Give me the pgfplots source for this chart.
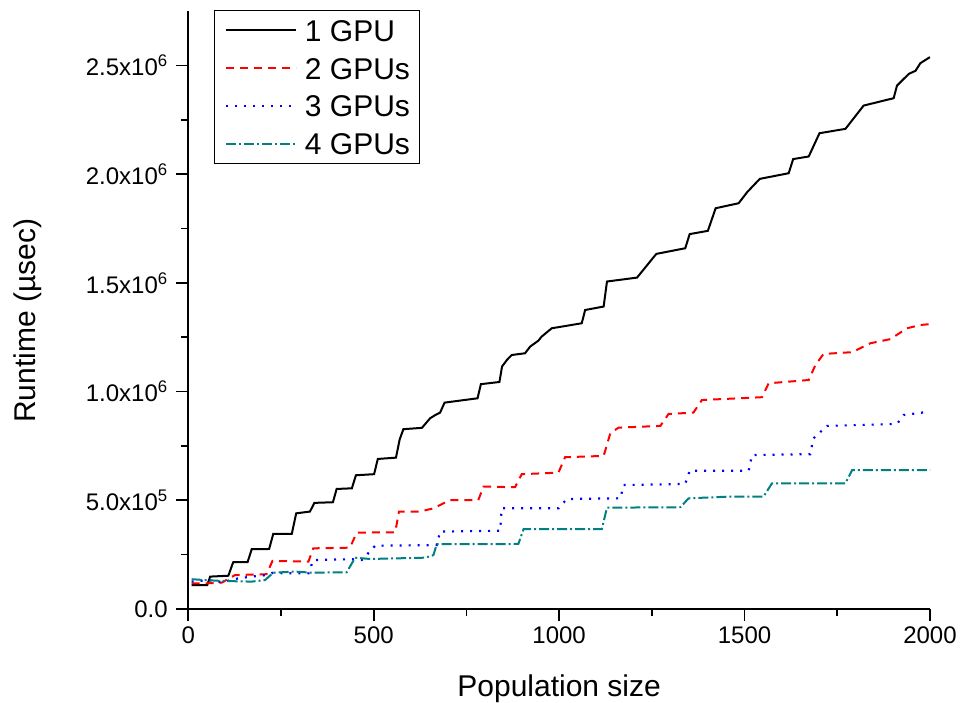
\documentclass[border=0pt]{standalone}
\usepackage{pgfplots}
\pgfplotsset{compat=1.18}
\usepackage{fontspec}
\setmainfont{Liberation Sans}
\definecolor{tealc}{RGB}{0,128,128}

\begin{document}
\begin{tikzpicture}
\begin{axis}[
  scale only axis,
  width=741.7pt, height=598pt,
  xmin=0, xmax=2000, ymin=0, ymax=2750000,
  axis x line*=bottom, axis y line*=left,
  x axis line style={-, line width=1.8pt},
  y axis line style={-, line width=1.8pt},
  tick align=outside,
  major tick length=12pt, minor tick length=7pt,
  every tick/.style={line width=1.6pt, black},
  xtick={0,500,1000,1500,2000},
  xticklabels={0,500,1000,1500,2000},
  minor x tick num=1,
  ytick={0,500000,1000000,1500000,2000000,2500000},
  yticklabels={0.0, 5.0x10\textsuperscript{5}, 1.0x10\textsuperscript{6}, 1.5x10\textsuperscript{6}, 2.0x10\textsuperscript{6}, 2.5x10\textsuperscript{6}},
  minor y tick num=1,
  scaled y ticks=false,
  ticklabel style={font=\fontsize{24}{24}\selectfont},
  yticklabel style={xshift=-5pt},
  xticklabel style={yshift=-2pt},
  xlabel={Population size},
  ylabel={Runtime (µsec)},
  label style={font=\fontsize{30}{30}\selectfont},
  xlabel style={at={(axis description cs:0.5,-0.133)}, anchor=center},
  ylabel style={at={(axis description cs:-0.216,0.482)}, anchor=center, rotate=0},
  legend cell align=left,
  legend style={at={(0.035,1.0017)}, anchor=north west, draw=black, line width=1pt,
    font=\fontsize{30}{30}\selectfont,
    nodes={text height=22pt, text depth=0pt, inner sep=0pt},
    /tikz/every odd column/.append style={column sep=8pt},
    row sep=15.7pt, inner xsep=10pt, inner ysep=9pt},
  legend image code/.code={\draw[#1] (0pt,0pt) -- (70pt,0pt);},
]
\addplot[black, line width=2pt] coordinates {
(9,110000) (51,110000) (59,149000) (108,153000) (121,215000) (160,216000)
(171,275000) (218,276000) (229,345000) (279,345000) (291,440000) (328,448000)
(340,488000) (390,491000) (400,552000) (441,555000) (452,615000) (501,620000)
(511,690000) (560,696000) (570,780000) (580,827000) (630,833000) (652,877000)
(666,892000) (679,903000) (691,949000) (780,969000) (789,1034000) (839,1044000)
(846,1115000) (859,1145000) (872,1168000) (908,1176000) (922,1207000) (944,1234000)
(953,1253000) (980,1291000) (1061,1314000) (1070,1375000) (1120,1391000) (1129,1506000)
(1210,1524000) (1262,1633000) (1340,1659000) (1352,1724000) (1401,1739000) (1422,1843000)
(1484,1866000) (1507,1917000) (1541,1978000) (1619,2004000) (1631,2069000) (1673,2081000)
(1702,2188000) (1772,2208000) (1821,2315000) (1902,2349000) (1911,2407000) (1943,2461000)
(1961,2475000) (1974,2510000) (2000,2538000)
};
\addlegendentry{1 GPU}
\addplot[red, line width=2pt, dash pattern=on 8pt off 6pt] coordinates {
(9,118000) (45,118000) (90,121000) (126,156000) (211,160000) (227,221000)
(324,218000) (337,279000) (436,282000) (454,351000) (558,353000) (568,448000)
(625,448000) (661,463000) (706,501000) (782,501000) (796,563000) (881,560000)
(899,620000) (998,627000) (1016,698000) (1120,704000) (1138,808000) (1160,834000)
(1273,842000) (1295,897000) (1362,903000) (1385,961000) (1547,974000) (1565,1038000)
(1673,1053000) (1691,1122000) (1713,1173000) (1790,1181000) (1839,1222000) (1893,1241000)
(1938,1291000) (1974,1306000) (2000,1310000)
};
\addlegendentry{2 GPUs}
\addplot[blue, line width=2.2pt, dash pattern=on 2pt off 7pt] coordinates {
(9,126000) (54,133000) (90,123000) (135,141000) (171,149000) (211,156000)
(229,167000) (261,164000) (324,164000) (337,225000) (441,229000) (468,225000)
(504,291000) (670,294000) (679,356000) (841,360000) (845,463000) (998,463000)
(1021,506000) (1165,509000) (1174,570000) (1340,575000) (1352,636000) (1511,636000)
(1520,708000) (1677,712000) (1686,785000) (1722,842000) (1911,851000) (1929,892000)
(2000,908000)
};
\addlegendentry{3 GPUs}
\addplot[tealc, line width=2pt, dash pattern=on 10pt off 3pt on 2pt off 3pt] coordinates {
(9,137000) (45,133000) (90,129000) (171,126000) (207,133000) (229,167000)
(288,172000) (333,167000) (427,169000) (450,236000) (490,230000) (639,236000)
(661,248000) (670,298000) (890,299000) (904,367000) (1115,367000) (1129,466000)
(1327,468000) (1349,509000) (1461,517000) (1551,517000) (1574,578000) (1772,578000)
(1790,639000) (2000,639000)
};
\addlegendentry{4 GPUs}
\coordinate (BBsw) at ([xshift=-188.3pt,yshift=-93pt]rel axis cs:0,0);
\coordinate (BBne) at ([xshift=37pt,yshift=11pt]rel axis cs:1,1);
\end{axis}
\pgfresetboundingbox
\path[use as bounding box] (BBsw) rectangle (BBne);
\end{tikzpicture}
\end{document}
